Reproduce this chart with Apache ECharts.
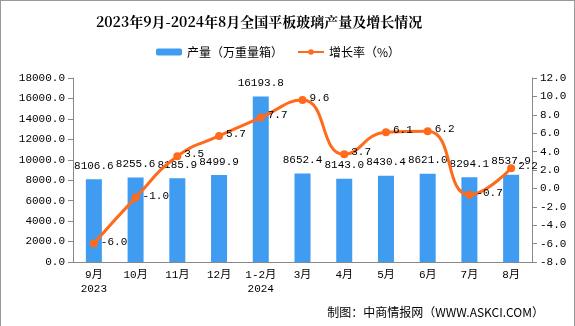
<!DOCTYPE html>
<html><head><meta charset="utf-8">
<script src="https://cdn.jsdelivr.net/npm/echarts@6/dist/echarts.min.js"></script>
<style>html,body{margin:0;padding:0;background:#fff}#c{width:573px;height:325px;border:1px solid #999;border-bottom:none}</style>
</head><body><div id="c"></div>
<script>
const categories = ['9月\n2023','10月','11月','12月','1-2月\n2024','3月','4月','5月','6月','7月','8月'];
const production = [8106.6, 8255.6, 8185.9, 8499.9, 16193.8, 8652.4, 8143.0, 8430.4, 8621.0, 8294.1, 8537.9];
const growth = [-6.0, -1.0, 3.5, 5.7, 7.7, 9.6, 3.7, 6.1, 6.2, -0.7, 2.2];
const leftTicks = {min: 0, max: 18000, interval: 2000};
const rightTicks = {min: -8, max: 12, interval: 2};

const font = '"Liberation Mono","DejaVu Sans Mono","Noto Sans CJK SC",monospace';
const chart = echarts.init(document.getElementById('c'));
chart.setOption({
  animation: false,
  title: {text: '2023年9月-2024年8月全国平板玻璃产量及增长情况', left: 95, top: 14, padding: 0,
    textStyle: {fontSize: 14, fontWeight: 'bold', color: '#000', fontFamily: '"Noto Serif CJK SC","Noto Sans CJK SC",serif'}},
  legend: {top: 40, left: 150, itemWidth: 26, itemHeight: 7, itemGap: 14,
    textStyle: {fontSize: 12, color: '#000', fontFamily: '"Noto Sans CJK SC",sans-serif'},
    data: ['产量（万重量箱）', '增长率（%）']},
  grid: {left: 72, right: 42, top: 77, bottom: 64},
  xAxis: {type: 'category', data: categories,
    axisLine: {lineStyle: {color: '#888'}}, axisTick: {lineStyle: {color: '#888'}},
    axisLabel: {color: '#000', fontSize: 11, fontFamily: font, margin: 6, lineHeight: 14, interval: 0}},
  yAxis: [
    {type: 'value', min: leftTicks.min, max: leftTicks.max, interval: leftTicks.interval,
      splitLine: {show: false}, axisLine: {show: true, lineStyle: {color: '#888'}},
      axisTick: {show: true, lineStyle: {color: '#888'}},
      axisLabel: {color: '#000', fontSize: 11, fontFamily: font, formatter: v => v.toFixed(1)}},
    {type: 'value', min: rightTicks.min, max: rightTicks.max, interval: rightTicks.interval,
      splitLine: {show: false}, axisLine: {show: true, lineStyle: {color: '#888'}},
      axisTick: {show: true, lineStyle: {color: '#888'}},
      axisLabel: {color: '#000', fontSize: 11, fontFamily: font, formatter: v => v.toFixed(1)}}
  ],
  series: [
    {name: '产量（万重量箱）', type: 'bar', data: production, barWidth: 16,
      itemStyle: {color: '#3f9cf0'},
      label: {show: true, position: 'top', distance: 8, color: '#000', fontSize: 11, fontFamily: font, formatter: p => p.value.toFixed(1)}},
    {name: '增长率（%）', type: 'line', yAxisIndex: 1, data: growth, smooth: true,
      symbol: 'circle', symbolSize: 8,
      lineStyle: {color: '#ff6a1c', width: 3}, itemStyle: {color: '#ff6a1c'},
      label: {show: true, position: 'right', distance: 3, offset: [0, -2], color: '#000', fontSize: 11, fontFamily: font, formatter: p => p.value.toFixed(1)}}
  ],
  graphic: [{type: 'text', right: 30, bottom: 8,
    style: {text: '制图：中商情报网（WWW.ASKCI.COM）', fill: '#000', fontSize: 12, fontFamily: '"Noto Sans CJK SC",sans-serif'}}]
});
</script></body></html>
